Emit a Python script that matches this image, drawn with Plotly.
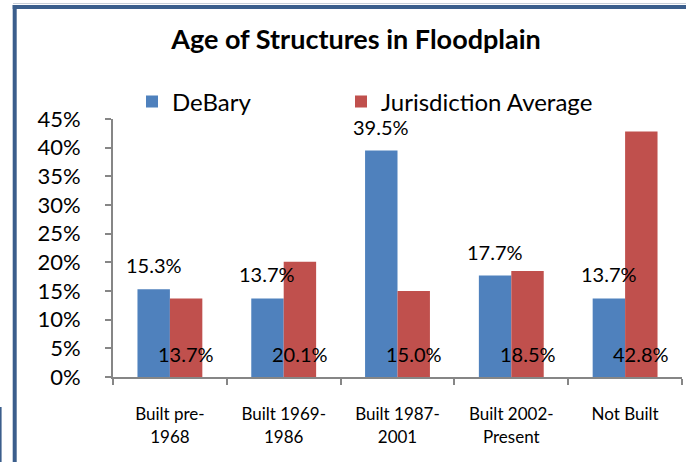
import plotly.graph_objects as go

categories = ["Built pre-<br>1968", "Built 1969-<br>1986", "Built 1987-<br>2001", "Built 2002-<br>Present", "Not Built"]
debary = [15.3, 13.7, 39.5, 17.7, 13.7]
jurisdiction = [13.7, 20.1, 15.0, 18.5, 42.8]
series_names = ["DeBary", "Jurisdiction Average"]
title_text = "Age of Structures in Floodplain"

BLUE = "#4F81BD"
RED = "#C0504D"
BORDER = "#3B5E8C"
AXIS = "#868686"
FONT = "Lato, 'Open Sans', sans-serif"

W, H = 686, 462
ML, MR, MT, MB = 113, 4, 119, 85
PW, PH = W - ML - MR, H - MT - MB

def px_x(px):
    return (px - ML) / PW

def px_y(py):
    return (H - MB - py) / PH

fig = go.Figure()
fig.add_trace(go.Bar(x=categories, y=debary, name=series_names[0], legend="legend",
                     marker=dict(color=BLUE, line=dict(width=0))))
fig.add_trace(go.Bar(x=categories, y=jurisdiction, name=series_names[1], legend="legend2",
                     marker=dict(color=RED, line=dict(width=0))))

half = PW / len(categories) * (1 - 0.43) / 4

annotations = []
for c, v in zip(categories, debary):
    annotations.append(dict(x=c, y=v, xref="x", yref="y", text=f"{v:.1f}%", showarrow=False,
                            xshift=-half, yshift=24, yanchor="middle", xanchor="center",
                            font=dict(family=FONT, size=20, color="#000")))
for c, v in zip(categories, jurisdiction):
    annotations.append(dict(x=c, y=0, xref="x", yref="y", text=f"{v:.1f}%", showarrow=False,
                            xshift=half, yshift=23, yanchor="middle", xanchor="center",
                            font=dict(family=FONT, size=20, color="#000")))

shapes = [
    dict(type="line", xref="paper", yref="paper", x0=px_x(13), x1=px_x(690), y0=px_y(3.5), y1=px_y(3.5),
         line=dict(color="#C8CED8", width=1)),
    dict(type="line", xref="paper", yref="paper", x0=px_x(12.7), x1=px_x(690), y0=px_y(7), y1=px_y(7),
         line=dict(color=BORDER, width=4)),
    dict(type="line", xref="paper", yref="paper", x0=px_x(14.7), x1=px_x(14.7), y0=px_y(5), y1=px_y(470),
         line=dict(color=BORDER, width=4)),
    dict(type="line", xref="paper", yref="paper", x0=px_x(0.8), x1=px_x(0.8), y0=px_y(407), y1=px_y(470),
         line=dict(color=BORDER, width=1.6)),
]

legend_common = dict(orientation="h", xanchor="left", yanchor="middle", y=px_y(102),
                     font=dict(family=FONT, size=24, color="#000"), bgcolor="rgba(0,0,0,0)",
                     itemclick=False, itemdoubleclick=False)

fig.update_layout(
    width=W, height=H,
    margin=dict(l=ML, r=MR, t=MT, b=MB, pad=0),
    paper_bgcolor="white", plot_bgcolor="white",
    font=dict(family=FONT, color="#000"),
    title=dict(text=f"<b>{title_text}</b>", x=px_x(356), xref="paper", xanchor="center",
               y=1 - 40 / H, yref="container", yanchor="middle",
               font=dict(family=FONT, size=27, color="#000")),
    barmode="group", bargap=0.43, bargroupgap=0,
    showlegend=True,
    legend=dict(x=px_x(132), **legend_common),
    legend2=dict(x=px_x(341), **legend_common),
    xaxis=dict(showline=True, linecolor=AXIS, linewidth=2, ticks="outside", tickson="boundaries",
               ticklen=6, tickcolor=AXIS, tickwidth=2, showgrid=False, zeroline=False,
               tickfont=dict(family=FONT, size=17, color="#000"), ticklabelstandoff=21,
               range=[-0.5, 4.5], fixedrange=True),
    yaxis=dict(range=[0, 45], dtick=5, ticksuffix="%", showline=True, linecolor=AXIS, linewidth=2,
               ticks="outside", ticklen=6, tickcolor=AXIS, tickwidth=2, showgrid=False, zeroline=False,
               tickfont=dict(family=FONT, size=22, color="#000"), ticklabelstandoff=20, fixedrange=True),
    annotations=annotations,
    shapes=shapes,
)

fig.write_html("out.html", config=dict(displayModeBar=False),
               post_script="document.body.style.margin='0';document.body.style.overflow='hidden';")
